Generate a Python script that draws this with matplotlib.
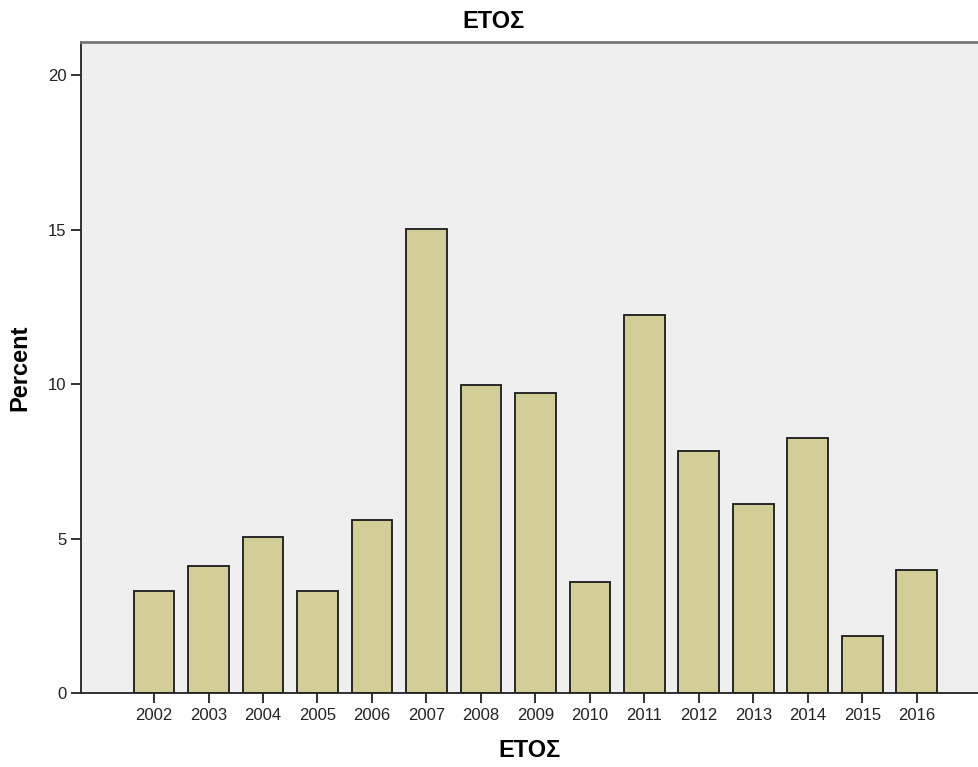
import matplotlib
matplotlib.use("Agg")
import matplotlib.pyplot as plt
import numpy as np

plt.rcParams['font.family'] = ['Liberation Sans', 'DejaVu Sans']

years = ['2002', '2003', '2004', '2005', '2006', '2007', '2008', '2009',
         '2010', '2011', '2012', '2013', '2014', '2015', '2016']
percent = [3.30, 4.11, 5.05, 3.30, 5.60, 15.02, 9.97, 9.71,
           3.59, 12.23, 7.83, 6.12, 8.25, 1.84, 3.98]

fig = plt.figure(figsize=(9.79, 7.67), dpi=100)
ax = fig.add_axes([81 / 979, 74 / 767, 1 - 81 / 979, (693 - 42) / 767])
ax.set_facecolor('#efefef')

x = np.arange(len(years))
ax.bar(x, percent, width=0.75, color='#d3ce98', edgecolor='#1a1a1a', linewidth=1.3)

ax.set_xlim(-1.34, 15.14)
ax.set_ylim(0, 21.07)
ax.set_yticks([0, 5, 10, 15, 20])
ax.set_xticks(x)
ax.set_xticklabels(years)
ax.tick_params(axis='both', labelsize=12, colors='#222222', length=7, width=1.3)

for s in ['left', 'bottom']:
    ax.spines[s].set_color('#222222')
    ax.spines[s].set_linewidth(1.3)
ax.spines['top'].set_color('#777777')
ax.spines['top'].set_linewidth(2)
ax.spines['right'].set_visible(False)

fig.text(494 / 979, 1 - 21 / 767, 'ΕΤΟΣ', fontsize=17, fontweight='bold',
         ha='center', va='center')
ax.set_xlabel('ΕΤΟΣ', fontsize=17, fontweight='bold', labelpad=12)
ax.set_ylabel('Percent', fontsize=17, fontweight='bold', labelpad=12)

fig.savefig('out.png', dpi=100)
